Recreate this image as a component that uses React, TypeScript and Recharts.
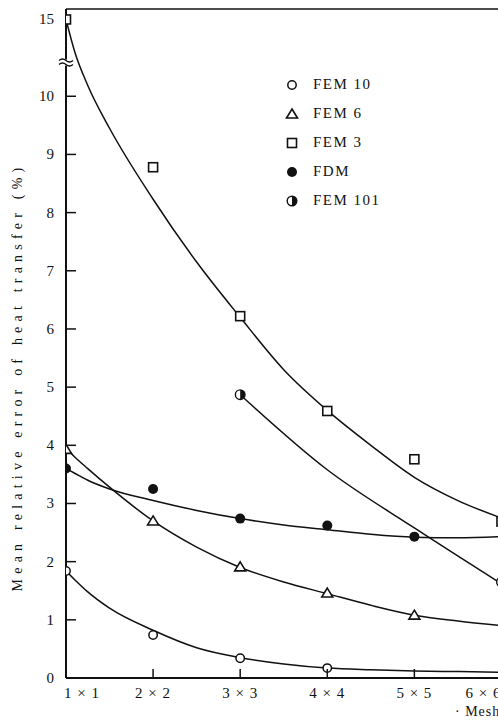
import React from 'react';
import {
  ComposedChart,
  Line,
  Scatter,
  XAxis,
  YAxis,
  Legend,
  ReferenceLine,
  ReferenceDot,
} from 'recharts';

// ---------- data ----------
const meshSizes = [1, 2, 3, 4, 5, 6];
const meshLabels = ['1 × 1', '2 × 2', '3 × 3', '4 × 4', '5 × 5', '6 × 6'];
const yTickValues = [0, 1, 2, 3, 4, 5, 6, 7, 8, 9, 10, 15];

// measured points (per mesh size)
const fem10Points = [1.84, 0.74, 0.34, 0.17, null, null];
const fem6Points = [3.93, 2.7, 1.91, 1.46, 1.08, null];
const fem3Points = [15, 8.78, 6.22, 4.59, 3.76, 2.69];
const fdmPoints = [3.6, 3.25, 2.74, 2.62, 2.43, null];
const fem101Points = [null, null, 4.87, null, null, 1.65];

// fitted curves
const curveX = [1, 1.1, 1.25, 1.5, 2, 2.5, 3, 3.5, 4, 4.5, 5, 5.5, 6];
const fem10Curve = [1.84, 1.69, 1.48, 1.2, 0.82, 0.52, 0.35, 0.24, 0.17, 0.14, 0.12, 0.11, 0.1];
const fem6Curve = [3.95, 3.8, 3.6, 3.28, 2.7, 2.25, 1.9, 1.65, 1.45, 1.25, 1.08, 0.98, 0.9];
const fem3Curve = [15, 12.9, 10.7, 9.45, 8.23, 7.15, 6.2, 5.3, 4.6, 4.0, 3.45, 3.05, 2.75];
const fdmCurve = [3.6, 3.52, 3.4, 3.25, 3.05, 2.88, 2.74, 2.63, 2.55, 2.47, 2.42, 2.41, 2.43];
const fem101Curve = [null, null, null, null, null, null, 4.87, null, 3.58, null, 2.58, null, 1.62];

// broken axis: above 10 the scale is compressed
const BREAK_AT = 10;
const BREAK_SCALE = 0.264;
const BREAK_MARK = 10.58;
const Y_MAX = 11.5;
const toDisplay = (v: number) => (v <= BREAK_AT ? v : BREAK_AT + (v - BREAK_AT) * BREAK_SCALE);

const points = (vals: (number | null)[]) =>
  meshSizes
    .map((x, i) => ({ x, y: vals[i] }))
    .filter((d) => d.y !== null)
    .map((d) => ({ x: d.x, y: toDisplay(d.y as number) }));

const curve = (vals: (number | null)[]) =>
  curveX
    .map((x, i) => ({ x, y: vals[i] }))
    .filter((d) => d.y !== null)
    .map((d) => ({ x: d.x, y: toDisplay(d.y as number) }));

// ---------- layout ----------
const W = 555;
const H = 722;
const MARGIN = { top: 9, right: 10, bottom: 14, left: 0 };
const Y_AXIS_W = 66;
const X_AXIS_H = 30;
const AXIS_X = MARGIN.left + Y_AXIS_W;
const PLOT_BOTTOM = H - MARGIN.bottom - X_AXIS_H;
const INK = '#111';
const FONT = '"Liberation Serif", "DejaVu Serif", serif';

// ---------- marker shapes ----------
const OpenCircle = ({ cx, cy }: any) => (
  <circle cx={cx} cy={cy} r={4.2} fill="#fff" stroke={INK} strokeWidth={1.5} />
);
const Triangle = ({ cx, cy }: any) => (
  <path
    d={`M ${cx} ${cy - 5} L ${cx + 5.5} ${cy + 4} L ${cx - 5.5} ${cy + 4} Z`}
    fill="#fff"
    stroke={INK}
    strokeWidth={1.6}
  />
);
const Square = ({ cx, cy }: any) => (
  <rect x={cx - 4.5} y={cy - 4.5} width={9} height={9} fill="#fff" stroke={INK} strokeWidth={1.6} />
);
const FilledCircle = ({ cx, cy }: any) => <circle cx={cx} cy={cy} r={5} fill={INK} />;
const HalfCircle = ({ cx, cy }: any) => (
  <g>
    <circle cx={cx} cy={cy} r={4.8} fill="#fff" stroke={INK} strokeWidth={1.4} />
    <path d={`M ${cx} ${cy - 4.8} A 4.8 4.8 0 0 1 ${cx} ${cy + 4.8} Z`} fill={INK} />
  </g>
);

const legendItems = [
  { name: 'FEM 10', Shape: OpenCircle },
  { name: 'FEM 6', Shape: Triangle },
  { name: 'FEM 3', Shape: Square },
  { name: 'FDM', Shape: FilledCircle },
  { name: 'FEM 101', Shape: HalfCircle },
];

const renderLegend = () => (
  <div style={{ fontFamily: FONT, fontSize: 15, color: INK }}>
    {legendItems.map(({ name, Shape }) => (
      <div key={name} style={{ display: 'flex', alignItems: 'center', height: 29 }}>
        <svg width={20} height={20} style={{ marginRight: 11 }}>
          <Shape cx={10} cy={10} />
        </svg>
        <span style={{ letterSpacing: 1.5 }}>{name}</span>
      </div>
    ))}
  </div>
);

const YTick = ({ y, payload }: any) => {
  const idx = yTickValues.findIndex((v) => Math.abs(toDisplay(v) - payload.value) < 1e-6);
  const label = idx >= 0 ? String(yTickValues[idx]) : '';
  return (
    <g>
      {label !== '0' && label !== '15' && (
        <line x1={AXIS_X} x2={AXIS_X + 10} y1={y} y2={y} stroke={INK} strokeWidth={1.5} />
      )}
      <text
        x={AXIS_X - 12}
        y={y}
        dy={5}
        textAnchor="end"
        fontFamily={FONT}
        fontSize={15}
        fill={INK}
      >
        {label}
      </text>
    </g>
  );
};

const XTick = ({ x, payload }: any) => {
  const i = meshSizes.indexOf(payload.value);
  const shift = i === 0 ? 16 : i === meshSizes.length - 1 ? -18 : 0;
  return (
    <g>
      {i > 0 && <line x1={x} x2={x} y1={PLOT_BOTTOM} y2={PLOT_BOTTOM - 9} stroke={INK} strokeWidth={1.5} />}
      <text
        x={x + shift}
        y={PLOT_BOTTOM + 20}
        textAnchor="middle"
        fontFamily={FONT}
        fontSize={15}
        letterSpacing={1}
        fill={INK}
      >
        {i >= 0 ? meshLabels[i] : ''}
      </text>
    </g>
  );
};

const BreakMark = ({ cx, cy }: any) => (
  <g>
    <rect x={cx - 7} y={cy - 3} width={14} height={6} fill="#fff" />
    <path
      d={`M ${cx - 7} ${cy - 2} q 3.5 -3 7 0 t 7 0 M ${cx - 7} ${cy + 2} q 3.5 -3 7 0 t 7 0`}
      fill="none"
      stroke={INK}
      strokeWidth={1.3}
    />
  </g>
);

const YTitle = () => (
  <text
    x={17}
    y={377}
    transform="rotate(-90, 17, 377)"
    textAnchor="middle"
    dominantBaseline="central"
    fontFamily={FONT}
    fontSize={14}
    letterSpacing={5.2}
    fill={INK}
  >
    Mean relative error of heat transfer (%)
  </text>
);

const XTitle = ({ viewBox }: any) => (
  <text
    x={viewBox.x + 389}
    y={viewBox.y + 38}
    fontFamily={FONT}
    fontSize={14}
    letterSpacing={1}
    fill={INK}
  >
    · Mesh
  </text>
);

const lineProps = {
  type: 'monotone' as const,
  dataKey: 'y',
  stroke: INK,
  strokeWidth: 1.5,
  dot: false,
  activeDot: false,
  isAnimationActive: false,
  legendType: 'none' as const,
};

export default function App() {
  return (
    <div
      style={{
        position: 'absolute',
        left: 0,
        top: 0,
        width: 498,
        height: 722,
        overflow: 'hidden',
        background: '#fff',
      }}
    >
      <ComposedChart width={W} height={H} margin={MARGIN}>
        <XAxis
          type="number"
          dataKey="x"
          domain={[1, 6.5]}
          ticks={meshSizes}
          allowDataOverflow
          height={X_AXIS_H}
          axisLine={{ stroke: INK, strokeWidth: 2 }}
          tickLine={false}
          tick={<XTick />}
          label={<XTitle />}
        />
        <YAxis
          type="number"
          dataKey="y"
          domain={[0, Y_MAX]}
          ticks={yTickValues.map(toDisplay)}
          allowDataOverflow
          width={Y_AXIS_W}
          axisLine={{ stroke: INK, strokeWidth: 2 }}
          tickLine={false}
          tick={<YTick />}
          label={<YTitle />}
        />
        <ReferenceLine y={Y_MAX} stroke={INK} strokeWidth={1.5} />
        <ReferenceDot x={1} y={BREAK_MARK} r={0} shape={<BreakMark />} />

        <Line {...lineProps} data={curve(fem10Curve)} />
        <Line {...lineProps} data={curve(fem6Curve)} />
        <Line {...lineProps} data={curve(fem3Curve)} />
        <Line {...lineProps} data={curve(fdmCurve)} />
        <Line {...lineProps} data={curve(fem101Curve)} />

        <Scatter data={points(fem10Points)} dataKey="y" shape={<OpenCircle />} isAnimationActive={false} />
        <Scatter data={points(fem6Points)} dataKey="y" shape={<Triangle />} isAnimationActive={false} />
        <Scatter data={points(fem3Points)} dataKey="y" shape={<Square />} isAnimationActive={false} />
        <Scatter data={points(fdmPoints)} dataKey="y" shape={<FilledCircle />} isAnimationActive={false} />
        <Scatter data={points(fem101Points)} dataKey="y" shape={<HalfCircle />} isAnimationActive={false} />

        <Legend
          layout="horizontal"
          align="center"
          verticalAlign="middle"
          content={renderLegend}
          wrapperStyle={{ position: 'absolute', left: 282, top: 70, width: 150 }}
        />
      </ComposedChart>
    </div>
  );
}
